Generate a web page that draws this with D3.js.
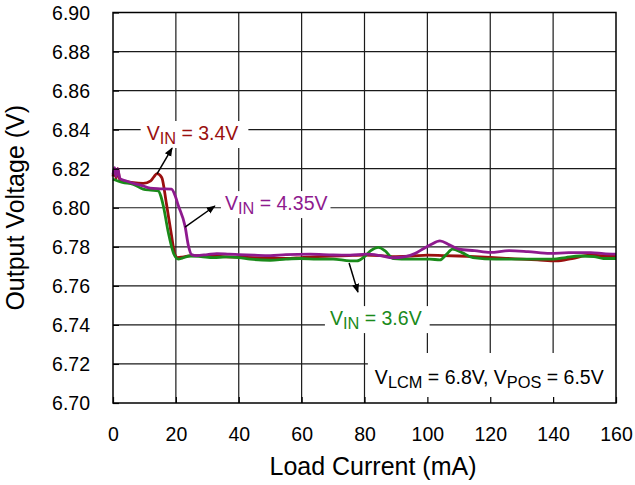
<!DOCTYPE html>
<html>
<head>
<meta charset="utf-8">
<script src="https://cdn.jsdelivr.net/npm/d3@7"></script>
<style>
  html, body { margin: 0; padding: 0; background: #fff; }
  svg { display: block; font-family: "Liberation Sans", Arial, sans-serif; }
</style>
</head>
<body>
<svg id="chart" width="635" height="485"></svg>
<script>
// ---------- data ----------
const xTicks = [0, 20, 40, 60, 80, 100, 120, 140, 160];
const yTicks = [6.70, 6.72, 6.74, 6.76, 6.78, 6.80, 6.82, 6.84, 6.86, 6.88, 6.90];

const vin34X = [0, 0.5, 1, 1.5, 2.2, 4, 6.5, 9.6, 12, 13, 14, 15.5, 17, 18.5, 19.7, 20.5, 22, 25, 30, 35, 40, 45, 50, 55, 60, 65, 70, 75, 80, 85, 90, 95, 100, 105, 110, 115, 120, 125, 130, 135, 141, 146, 151.7, 155, 160];
const vin34Y = [6.816, 6.820, 6.815, 6.820, 6.814, 6.8135, 6.8128, 6.8125, 6.8138, 6.8158, 6.8175, 6.8155, 6.802, 6.787, 6.776, 6.7745, 6.7747, 6.7755, 6.7755, 6.775, 6.7747, 6.7745, 6.7742, 6.774, 6.7745, 6.775, 6.7752, 6.7755, 6.7757, 6.7755, 6.775, 6.7752, 6.7757, 6.7755, 6.7753, 6.775, 6.7746, 6.7741, 6.7737, 6.7733, 6.7728, 6.774, 6.7757, 6.7755, 6.7753];

const vin435X = [0, 0.5, 1, 1.5, 2.2, 4, 6.5, 9, 11.8, 15, 18.6, 19.8, 20.8, 22.9, 24, 25, 26.5, 30, 33, 37, 40, 45, 50, 55, 62.7, 70, 75.4, 80.7, 85, 89, 93, 96, 98.7, 101, 104, 107, 110, 115, 120, 126, 132, 139, 145, 152, 156, 160];
const vin435Y = [6.817, 6.8205, 6.816, 6.820, 6.815, 6.8138, 6.8125, 6.8115, 6.810, 6.8097, 6.8095, 6.806, 6.801, 6.7907, 6.7805, 6.776, 6.7755, 6.776, 6.7765, 6.7762, 6.776, 6.7757, 6.7755, 6.776, 6.7762, 6.7758, 6.7757, 6.7762, 6.7755, 6.7744, 6.775, 6.7765, 6.779, 6.781, 6.783, 6.781, 6.7788, 6.778, 6.7771, 6.778, 6.7775, 6.7766, 6.777, 6.777, 6.7765, 6.7762];

const vin36X = [0, 3, 6.5, 9.6, 12, 14.4, 15.2, 16, 17.6, 19.2, 20.8, 22, 24.5, 28, 32, 36, 40, 43.6, 50, 55, 59.5, 65, 70, 75.4, 77.5, 80, 82, 84.4, 86.5, 89.2, 94.5, 100.8, 104, 106, 108, 111, 114.5, 122, 130, 140, 144, 148.5, 153, 156, 160];
const vin36Y = [6.8146, 6.813, 6.812, 6.8095, 6.809, 6.8086, 6.806, 6.801, 6.7873, 6.777, 6.7737, 6.7742, 6.7753, 6.775, 6.7745, 6.7748, 6.7745, 6.7737, 6.7731, 6.7737, 6.774, 6.7737, 6.7737, 6.7728, 6.7728, 6.775, 6.778, 6.7797, 6.778, 6.774, 6.7737, 6.7737, 6.7733, 6.776, 6.7788, 6.777, 6.7745, 6.7737, 6.7737, 6.7737, 6.7745, 6.7753, 6.775, 6.774, 6.774];

const seriesNames = ["VIN = 3.4V", "VIN = 4.35V", "VIN = 3.6V"];
const seriesColors = ["#9a0f0f", "#8e1a8e", "#1a8a1a"];

// ---------- layout ----------
const svg = d3.select("#chart");
const L = 113, R = 616, T = 12.5, B = 403;
const x = d3.scaleLinear().domain([0, 160]).range([L, R]);
const y = d3.scaleLinear().domain([6.70, 6.90]).range([B, T]);
const tickFont = 19.5, titleFont = 25, noteFont = 19.5;

// gridlines
const grid = svg.append("g");
grid.selectAll("line.v").data(xTicks.slice(1, -1)).join("line")
  .attr("x1", d => x(d)).attr("x2", d => x(d)).attr("y1", T).attr("y2", B)
  .attr("stroke", "#1a1a1a").attr("stroke-width", 1.2);
grid.selectAll("line.h").data(yTicks.slice(1, -1)).join("line")
  .attr("y1", d => y(d)).attr("y2", d => y(d)).attr("x1", L).attr("x2", R)
  .attr("stroke", "#1a1a1a").attr("stroke-width", 1.2);

// series
const series = [
  { xs: vin34X, ys: vin34Y, color: seriesColors[0] },
  { xs: vin36X, ys: vin36Y, color: seriesColors[2] },
  { xs: vin435X, ys: vin435Y, color: seriesColors[1] }
];
const line = d3.line().x(d => x(d[0])).y(d => y(d[1])).curve(d3.curveMonotoneX);
const plot = svg.append("g");
series.forEach(s => {
  plot.append("path")
    .datum(s.xs.map((v, i) => [v, s.ys[i]]))
    .attr("d", line)
    .attr("fill", "none")
    .attr("stroke", s.color)
    .attr("stroke-width", 2.8)
    .attr("stroke-linejoin", "round");
});

// annotations
const notes = svg.append("g");
function richText(g, px, py, parts, color, size) {
  const t = g.append("text").attr("x", px).attr("y", py)
    .attr("font-size", size).attr("fill", color);
  let lowered = false;
  parts.forEach(([txt, sub]) => {
    const ts = t.append("tspan").text(txt);
    if (sub && !lowered) { ts.attr("dy", 4).attr("font-size", size * 0.84); lowered = true; }
    else if (sub) { ts.attr("font-size", size * 0.84); }
    else if (!sub && lowered) { ts.attr("dy", -4); lowered = false; }
  });
  return t;
}
function boxedLabel(dx, dy, parts, color, padL, padR) {
  const g = notes.append("g");
  const rect = g.append("rect").attr("fill", "#fff");
  const t = richText(g, x(dx), y(dy), parts, color, noteFont);
  const bb = t.node().getBBox();
  rect.attr("x", bb.x - padL).attr("y", bb.y - 1)
    .attr("width", bb.width + padL + padR).attr("height", bb.height + 2);
  return g;
}
boxedLabel(10.7, 6.8347, [["V", false], ["IN", true], [" = 3.4V", false]], seriesColors[0], 6, 10);
boxedLabel(35.6, 6.7988, [["V", false], ["IN", true], [" = 4.35V", false]], seriesColors[1], 4, 3);
boxedLabel(69.0, 6.7399, [["V", false], ["IN", true], [" = 3.6V", false]], seriesColors[2], 5, 8);

// conditions box (extends to right and bottom axes)
{
  const g = notes.append("g");
  const rect = g.append("rect").attr("fill", "#fff");
  const t = richText(g, x(83.3), y(6.7097),
    [["V", false], ["LCM", true], [" = 6.8V, V", false], ["POS", true], [" = 6.5V", false]], "#000", noteFont);
  const bb = t.node().getBBox();
  rect.attr("x", bb.x - 7).attr("y", 353).attr("width", R - (bb.x - 7)).attr("height", B - 353);
}

// arrows
const defs = svg.append("defs");
defs.append("marker").attr("id", "ah").attr("viewBox", "0 0 10 10")
  .attr("refX", 9).attr("refY", 5).attr("markerWidth", 9).attr("markerHeight", 9)
  .attr("markerUnits", "userSpaceOnUse").attr("orient", "auto")
  .append("path").attr("d", "M0,1 L10,5 L0,9 Z").attr("fill", "#000");
const arrows = [
  [14.0, 6.8173, 18.8, 6.8306],
  [22.9, 6.7901, 32.4, 6.8009],
  [75.1, 6.7717, 77.9, 6.7568]
];
svg.append("g").selectAll("line").data(arrows).join("line")
  .attr("x1", d => x(d[0])).attr("y1", d => y(d[1]))
  .attr("x2", d => x(d[2])).attr("y2", d => y(d[3]))
  .attr("stroke", "#000").attr("stroke-width", 1.5)
  .attr("marker-end", "url(#ah)");

// axes (inward ticks)
const xAxis = d3.axisBottom(x).tickValues(xTicks).tickSize(-6).tickPadding(29).tickFormat(d3.format("d"));
const yAxis = d3.axisLeft(y).tickValues(yTicks).tickSize(-6).tickPadding(29).tickFormat(d3.format(".2f"));
const gx = svg.append("g").attr("transform", `translate(0,${B})`).call(xAxis);
const gy = svg.append("g").attr("transform", `translate(${L},0)`).call(yAxis);
[gx, gy].forEach(g => {
  g.select(".domain").remove();
  g.selectAll("line").attr("stroke", "#000").attr("stroke-width", 1.2);
  g.selectAll("text").attr("font-size", tickFont).attr("fill", "#000")
    .attr("font-family", "'Liberation Sans', Arial, sans-serif");
});
gx.selectAll("text").attr("dy", null).attr("y", 37.5);
gy.selectAll("text").attr("x", -23).attr("dy", "0.35em");

// frame
svg.append("rect").attr("x", L).attr("y", T).attr("width", R - L).attr("height", B - T)
  .attr("fill", "none").attr("stroke", "#000").attr("stroke-width", 1.5);

// titles
svg.append("text").attr("x", 373).attr("y", 475).attr("text-anchor", "middle")
  .attr("font-size", titleFont).text("Load Current (mA)");
svg.append("text").attr("transform", `translate(24,${(T + B) / 2}) rotate(-90)`)
  .attr("text-anchor", "middle").attr("font-size", titleFont).text("Output Voltage (V)");
</script>
</body>
</html>
